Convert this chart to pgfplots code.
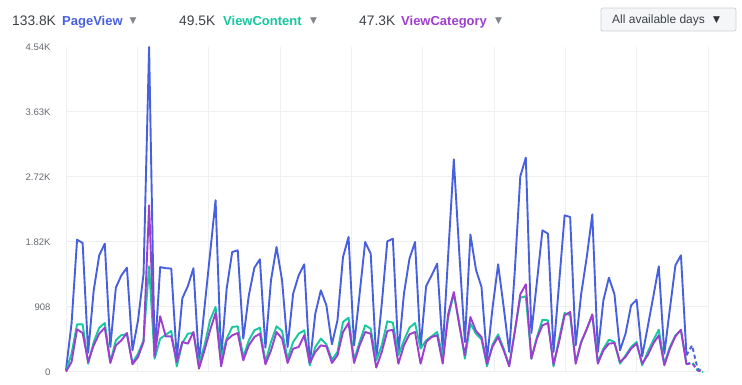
\documentclass[border=0pt]{standalone}
\usepackage{pgfplots}
\pgfplotsset{compat=1.18}
\usepackage{pgfplotstable}
\usepackage{fontspec}
\setmainfont{Liberation Sans}
\newfontfamily\symfont{DejaVu Sans}
\definecolor{pv}{RGB}{72,96,222}
\definecolor{vc}{RGB}{22,199,160}
\definecolor{vcat}{RGB}{158,62,206}
\definecolor{numgray}{RGB}{60,64,70}
\definecolor{tickgray}{RGB}{100,104,110}
\definecolor{gridgray}{RGB}{238,239,241}
\definecolor{trigray}{RGB}{130,134,140}

\pgfplotstableread{
i pv vc vcat
0 30 10 5
1 675 256 140
2 1848 666 596
3 1802 666 545
4 270 116 140
5 1140 419 372
6 1630 619 535
7 1793 684 619
8 350 140 126
9 1178 442 372
10 1350 517 442
11 1457 526 545
12 303 126 107
13 720 256 210
14 1373 442 419
15 4540 1476 2328
16 210 186 219
17 1465 466 778
18 1450 520 498
19 1445 573 498
20 186 79 140
21 1030 405 419
22 1200 535 396
23 1450 545 559
24 140 116 47
25 900 372 303
26 1650 722 582
27 2400 908 824
28 186 186 79
29 1164 466 442
30 1676 629 512
31 1700 638 545
32 466 210 163
33 1071 442 372
34 1457 582 489
35 1574 619 535
36 340 140 107
37 1280 419 300
38 1746 638 559
39 1280 573 466
40 350 186 126
41 1094 419 326
42 1350 535 349
43 1504 582 512
44 110 93 126
45 815 349 280
46 1141 466 372
47 931 386 358
48 386 172 126
49 722 280 233
50 1606 698 559
51 1886 759 684
52 372 172 126
53 1094 419 372
54 1816 652 559
55 1653 605 535
56 170 163 61
57 954 372 280
58 1825 708 573
59 1862 689 591
60 256 233 116
61 1094 442 372
62 1583 619 526
63 1816 684 559
64 340 326 116
65 1197 442 419
66 1350 498 489
67 1513 559 512
68 312 210 116
69 1653 768 815
70 2970 1094 1117
71 1650 675 652
72 419 186 233
73 1920 675 768
74 1429 535 573
75 1187 455 489
76 186 79 116
77 900 386 358
78 1504 526 489
79 908 326 303
80 280 93 79
81 1400 560 560
82 2733 1038 1085
83 2994 1057 1225
84 545 186 186
85 1257 489 466
86 1979 731 652
87 1932 722 684
88 280 79 107
89 1234 466 419
90 2188 824 792
91 2165 792 838
92 372 140 116
93 1094 419 419
94 1606 600 600
95 2202 792 805
96 280 140 116
97 1001 326 303
98 1318 452 396
99 1085 419 405
100 303 116 140
101 535 233 210
102 931 349 326
103 1010 419 396
104 219 93 116
105 630 280 233
106 1050 442 396
107 1476 591 512
108 256 116 93
109 880 349 326
110 1490 512 498
111 1630 582 591
112 233 107 107
113 372 140 126
114 47 23 23
115 0 0 0
}\data

\begin{document}
\begin{tikzpicture}[x=1pt,y=1pt]
\path[use as bounding box] (0,0) rectangle (742,385);
\begin{axis}[
  at={(66pt,13pt)}, anchor=south west,
  width=642pt, height=325pt, scale only axis,
  xmin=0, xmax=115.884, ymin=0, ymax=4540,
  clip=false,
  axis line style={draw=none},
  major tick length=0pt,
  grid=major,
  major grid style={draw=gridgray, line width=1pt},
  xtick={0,12.876,25.752,38.628,51.504,64.38,77.256,90.132,103.008,115.884},
  xticklabel=\empty,
  ytick={0,908,1816,2724,3632},
  yticklabels={0,908,1.82K,2.72K,3.63K},
  extra y ticks={4540},
  extra y tick labels={4.54K},
  extra y tick style={grid=none},
  yticklabel style={font=\fontsize{9.5}{10}\selectfont, text=tickgray, anchor=east, xshift=-12pt},
]
\addplot[pv, line width=1.9pt, line join=round, restrict x to domain=0:112] table[x=i,y=pv]{\data};
\addplot[pv, line width=1.9pt, line join=round, dash pattern=on 4pt off 3pt, restrict x to domain=112:115] table[x=i,y=pv]{\data};
\addplot[vc, line width=1.9pt, line join=round, restrict x to domain=0:112] table[x=i,y=vc]{\data};
\addplot[vc, line width=1.9pt, line join=round, dash pattern=on 4pt off 3pt, restrict x to domain=112:115] table[x=i,y=vc]{\data};
\addplot[vcat, line width=1.9pt, line join=round, restrict x to domain=0:112] table[x=i,y=vcat]{\data};
\addplot[vcat, line width=1.9pt, line join=round, dash pattern=on 4pt off 3pt, restrict x to domain=112:115] table[x=i,y=vcat]{\data};
\end{axis}
% header
\def\hy{359.5}
\node[anchor=base west, inner sep=0, text=numgray, font=\fontsize{13.8}{15}\selectfont] at (12,\hy) {133.8K};
\node[anchor=base west, inner sep=0, text=pv, font=\bfseries\fontsize{13}{15}\selectfont] at (62,\hy) {PageView};
\node[anchor=base west, inner sep=0, text=trigray, font=\symfont\fontsize{9}{10}\selectfont] at (129.5,\hy+1.5) {▼};
\node[anchor=base west, inner sep=0, text=numgray, font=\fontsize{13.8}{15}\selectfont] at (179,\hy) {49.5K};
\node[anchor=base west, inner sep=0, text=vc, font=\bfseries\fontsize{13}{15}\selectfont] at (223,\hy) {ViewContent};
\node[anchor=base west, inner sep=0, text=trigray, font=\symfont\fontsize{9}{10}\selectfont] at (310,\hy+1.5) {▼};
\node[anchor=base west, inner sep=0, text=numgray, font=\fontsize{13.8}{15}\selectfont] at (359,\hy) {47.3K};
\node[anchor=base west, inner sep=0, text=vcat, font=\bfseries\fontsize{13}{15}\selectfont] at (401,\hy) {ViewCategory};
\node[anchor=base west, inner sep=0, text=trigray, font=\symfont\fontsize{9}{10}\selectfont] at (495,\hy+1.5) {▼};
% button
\draw[draw={rgb,255:red,204;green,208;blue,213}, fill={rgb,255:red,245;green,246;blue,247}, rounded corners=2pt, line width=0.8pt] (601,354) rectangle (736,377);
\node[anchor=base west, inner sep=0, text=numgray, font=\fontsize{12}{13}\selectfont] at (612,361.5) {All available days};
\node[anchor=base west, inner sep=0, text=numgray!80!black, font=\symfont\fontsize{9}{10}\selectfont] at (713,362) {▼};
\end{tikzpicture}
\end{document}
